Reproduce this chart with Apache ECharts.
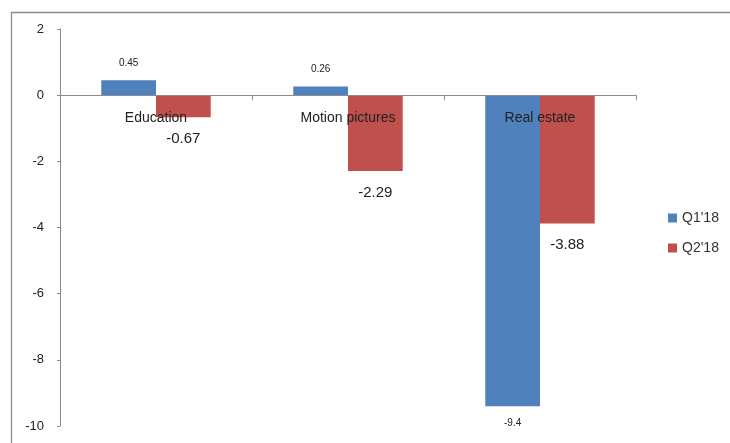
<!DOCTYPE html>
<html>
<head>
<meta charset="utf-8">
<script src="https://cdn.jsdelivr.net/npm/echarts@6/dist/echarts.min.js"></script>
<style>html,body{margin:0;padding:0;background:#fff;}#c{width:730px;height:443px;}</style>
</head>
<body>
<div id="c"></div>
<script>
var categories = ['Education', 'Motion pictures', 'Real estate'];
var q1Values = [0.45, 0.26, -9.4];
var q2Values = [-0.67, -2.29, -3.88];
var seriesNames = ["Q1'18", "Q2'18"];
var yMin = -10, yMax = 2, yStep = 2;

function toItems(vals) {
  return vals.map(function (v) {
    return { value: v, label: { position: v >= 0 ? 'top' : 'bottom' } };
  });
}

var W = 730, H = 443;
var gridTop = 29, gridBottom = 17;
var gridH = H - gridTop - gridBottom;
var zeroOffset = -gridH * (0 - yMin) / (yMax - yMin);

var chart = echarts.init(document.getElementById('c'), null, { renderer: 'canvas' });
chart.setOption({
  animation: false,
  backgroundColor: '#fff',
  graphic: [{
    type: 'rect', left: 9, top: 10, silent: true,
    shape: { width: 800, height: 500 },
    style: { fill: 'none', stroke: '#8c8c8c', lineWidth: 1.3 }
  }],
  grid: { left: 60, right: 94, top: gridTop, bottom: gridBottom, containLabel: false },
  legend: {
    orient: 'vertical', left: 663, top: 206,
    itemWidth: 9, itemHeight: 9, itemGap: 16,
    icon: 'rect',
    textStyle: { fontFamily: 'Liberation Sans', fontSize: 14, color: '#333' },
    data: seriesNames
  },
  xAxis: {
    type: 'category', data: categories, position: 'bottom', offset: zeroOffset,
    axisLine: { onZero: false, lineStyle: { color: '#8c8c8c', width: 1 } },
    axisTick: { show: true, length: 5, lineStyle: { color: '#8c8c8c' } },
    axisLabel: { margin: 16, fontFamily: 'Liberation Sans', fontSize: 14, color: '#222' },
    z: 10
  },
  yAxis: {
    type: 'value', min: yMin, max: yMax, interval: yStep,
    splitLine: { show: false },
    axisLine: { show: true, lineStyle: { color: '#8c8c8c' } },
    axisTick: { show: true, length: 3, lineStyle: { color: '#8c8c8c' } },
    axisLabel: { margin: 16, fontFamily: 'Liberation Sans', fontSize: 13, color: '#222' }
  },
  series: [{
    name: seriesNames[0], type: 'bar', data: toItems(q1Values),
    barCategoryGap: '43%', barGap: '0%',
    itemStyle: { color: '#4F81BD' },
    label: { show: true, distance: 12, fontFamily: 'Liberation Sans', fontSize: 10, color: '#222' }
  }, {
    name: seriesNames[1], type: 'bar', data: toItems(q2Values),
    barCategoryGap: '43%', barGap: '0%',
    itemStyle: { color: '#C0504D' },
    label: { show: true, distance: 14, fontFamily: 'Liberation Sans', fontSize: 15, color: '#222' }
  }]
});
</script>
</body>
</html>
